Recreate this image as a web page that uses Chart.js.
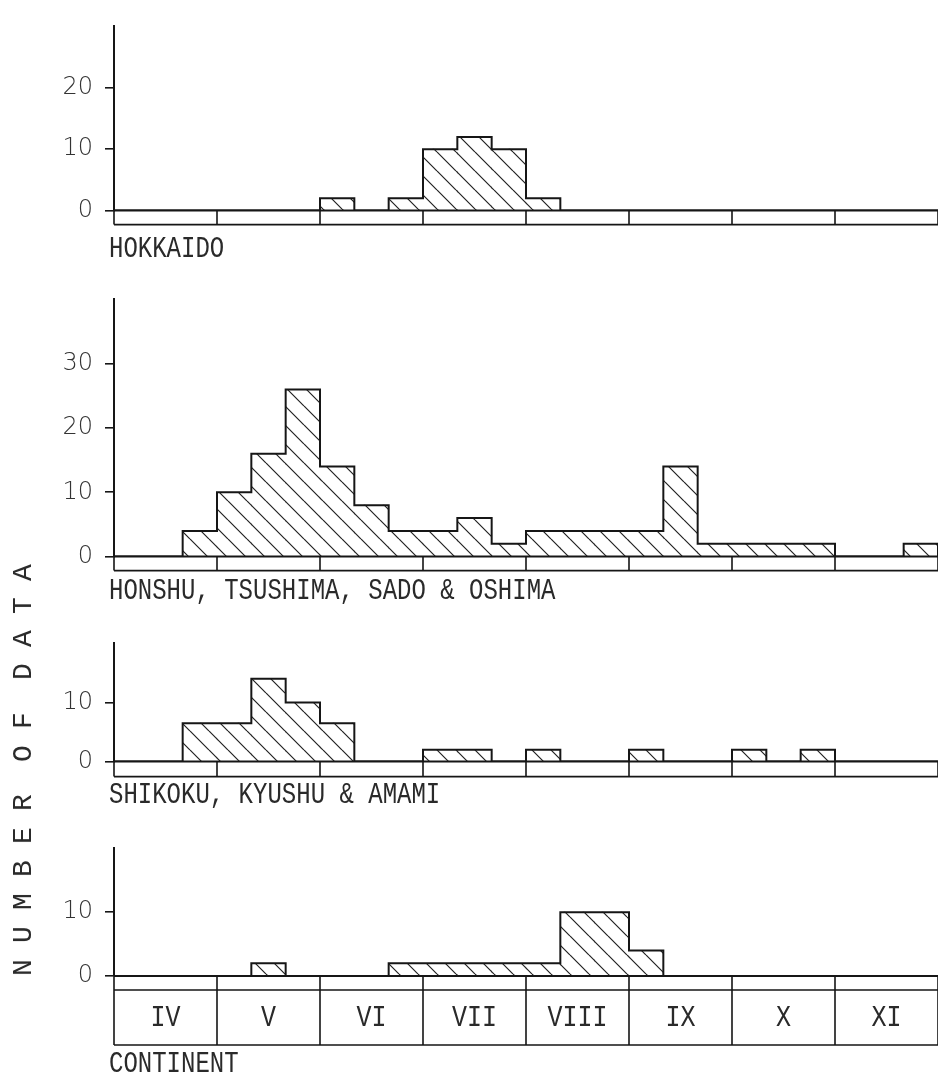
<!DOCTYPE html>
<html>
<head>
<meta charset="utf-8">
<script src="https://cdn.jsdelivr.net/npm/chart.js@4.4.0/dist/chart.umd.min.js"></script>
<style>
  body { margin: 0; background: #fff; width: 938px; height: 1074px; position: relative; overflow: hidden; }
  canvas { position: absolute; left: 0; }
  .name {
    position: absolute; left: 109px; margin: 0;
    font: 24px 'Liberation Mono', monospace; line-height: 24px; color: #2a2a2a;
    white-space: pre; transform: scaleY(1.2); transform-origin: 0 0;
  }
  #ytitle {
    position: absolute; left: 23.5px; top: 762.4px;
    font: 28px 'Liberation Mono', monospace; line-height: 28px; color: #2a2a2a;
    letter-spacing: 16.2px; word-spacing: -17px; white-space: nowrap;
    transform: translate(-50%, -50%) rotate(-90deg);
  }
</style>
</head>
<body>

<canvas id="hokkaido" width="938" height="237" style="top:0px"></canvas>
<canvas id="honshu" width="938" height="310" style="top:273px"></canvas>
<canvas id="shikoku" width="938" height="171" style="top:617px"></canvas>
<canvas id="continent" width="938" height="229" style="top:822px"></canvas>

<div class="name" style="top:235px">HOKKAIDO</div>
<div class="name" style="top:577px">HONSHU, TSUSHIMA, SADO &amp; OSHIMA</div>
<div class="name" style="top:781px">SHIKOKU, KYUSHU &amp; AMAMI</div>
<div class="name" style="top:1050px">CONTINENT</div>
<div id="ytitle">NUMBER OF DATA</div>

<script>
// months, each split in three ten-day periods
const months = ['IV', 'V', 'VI', 'VII', 'VIII', 'IX', 'X', 'XI'];

// number of data per ten-day period (3 per month)
const hokkaido  = [0, 0, 0,   0, 0, 0,   2, 0, 2,   10, 12, 10,  2, 0, 0,   0, 0, 0,   0, 0, 0,  0, 0, 0];
const honshu    = [0, 0, 4,   10, 16, 26, 14, 8, 4,  4, 6, 2,     4, 4, 4,   4, 14, 2,  2, 2, 2,  0, 0, 2];
const shikoku   = [0, 0, 6.5, 6.5, 14, 10, 6.5, 0, 0, 2, 2, 0,    2, 0, 0,   2, 0, 0,   2, 0, 2,  0, 0, 0];
const continent = [0, 0, 0,   0, 2, 0,   0, 0, 2,   2, 2, 2,     2, 10, 10, 4, 0, 0,   0, 0, 0,  0, 0, 0];

// y tick labels per panel
const hokkaidoTicks  = [0, 10, 20];
const honshuTicks    = [0, 10, 20, 30];
const shikokuTicks   = [0, 10];
const continentTicks = [0, 10];

const INK = '#161616';

// diagonal hatching "\" used as bar fill
function hatch() {
  const s = 19;
  const c = document.createElement('canvas');
  c.width = s; c.height = s;
  const g = c.getContext('2d');
  g.strokeStyle = '#222';
  g.lineWidth = 1.2;
  g.beginPath();
  for (let k = -1; k <= 1; k++) {
    g.moveTo(0, k * s);
    g.lineTo(s, s + k * s);
  }
  g.stroke();
  return g.createPattern(c, 'repeat');
}

// month strip (and labelled month boxes on the last panel) under the baseline
const monthStrip = {
  id: 'monthStrip',
  afterDraw(chart, args, opts) {
    const { ctx, chartArea: a, scales: { x } } = chart;
    const y0 = a.bottom;
    const y1 = y0 + opts.strip;
    const y2 = y1 + (opts.box || 0);
    ctx.save();
    ctx.strokeStyle = INK;
    ctx.lineWidth = 2;
    ctx.beginPath();
    ctx.moveTo(a.left, y0); ctx.lineTo(a.right, y0);
    ctx.stroke();
    ctx.lineWidth = 1.6;
    ctx.beginPath();
    ctx.moveTo(a.left, y1); ctx.lineTo(a.right, y1);
    if (opts.box) { ctx.moveTo(a.left, y2); ctx.lineTo(a.right, y2); }
    for (let i = 0; i <= months.length; i++) {
      const px = Math.round(x.getPixelForValue(i * 3));
      ctx.moveTo(px, y0); ctx.lineTo(px, y2);
    }
    ctx.stroke();
    if (opts.box) {
      ctx.fillStyle = '#2a2a2a';
      ctx.font = "25px 'Liberation Mono', monospace";
      ctx.textAlign = 'center';
      ctx.textBaseline = 'middle';
      months.forEach((m, i) => {
        ctx.save();
        ctx.translate(x.getPixelForValue(i * 3 + 1.5), (y1 + y2) / 2 + 1);
        ctx.scale(1, 1.15);
        ctx.fillText(m, 0, 0);
        ctx.restore();
      });
    }
    ctx.restore();
  }
};

function panel(id, values, ticks, yMax, padTop, padBottom, strip) {
  const ctx = document.getElementById(id).getContext('2d');
  const bars = values.map((v, i) => ({ x: i + 0.5, y: v }));
  const outline = values.map((v, i) => ({ x: i, y: v }));
  outline.push({ x: values.length, y: 0 });

  return new Chart(ctx, {
    data: {
      datasets: [
        {
          type: 'line',
          data: outline,
          stepped: 'before', // hold each value until the next period
          borderColor: INK,
          borderWidth: 2,
          pointRadius: 0,
          fill: false,
          order: 0
        },
        {
          type: 'bar',
          data: bars,
          backgroundColor: hatch(),
          borderWidth: 0,
          barPercentage: 1,
          categoryPercentage: 1,
          order: 1
        }
      ]
    },
    options: {
      responsive: false,
      animation: false,
      events: [],
      layout: { padding: { top: padTop, bottom: padBottom, left: 0, right: 0 } },
      scales: {
        x: {
          type: 'linear',
          min: 0,
          max: values.length,
          offset: false,
          display: false,
          ticks: { stepSize: 3 }
        },
        y: {
          min: 0,
          max: yMax,
          afterBuildTicks: s => { s.ticks = ticks.map(v => ({ value: v })); },
          afterFit: s => { s.width = 114; },
          grid: {
            drawOnChartArea: false,
            drawTicks: true,
            tickLength: 9,
            color: INK,
            lineWidth: 1.6
          },
          border: { display: true, color: INK, width: 2 },
          ticks: {
            padding: 12,
            color: '#333',
            font: { family: 'DejaVu Sans', size: 24, weight: '200' }
          }
        }
      },
      plugins: {
        legend: { display: false },
        tooltip: { enabled: false },
        monthStrip: strip
      }
    },
    plugins: [monthStrip]
  });
}

panel('hokkaido', hokkaido, hokkaidoTicks, 30, 14, 20, { strip: 14 });
panel('honshu', honshu, honshuTicks, 40, 16, 20, { strip: 14 });
panel('shikoku', shikoku, shikokuTicks, 20, 16, 20, { strip: 15 });
panel('continent', continent, continentTicks, 20, 16, 75, { strip: 14, box: 55 });
</script>
</body>
</html>
